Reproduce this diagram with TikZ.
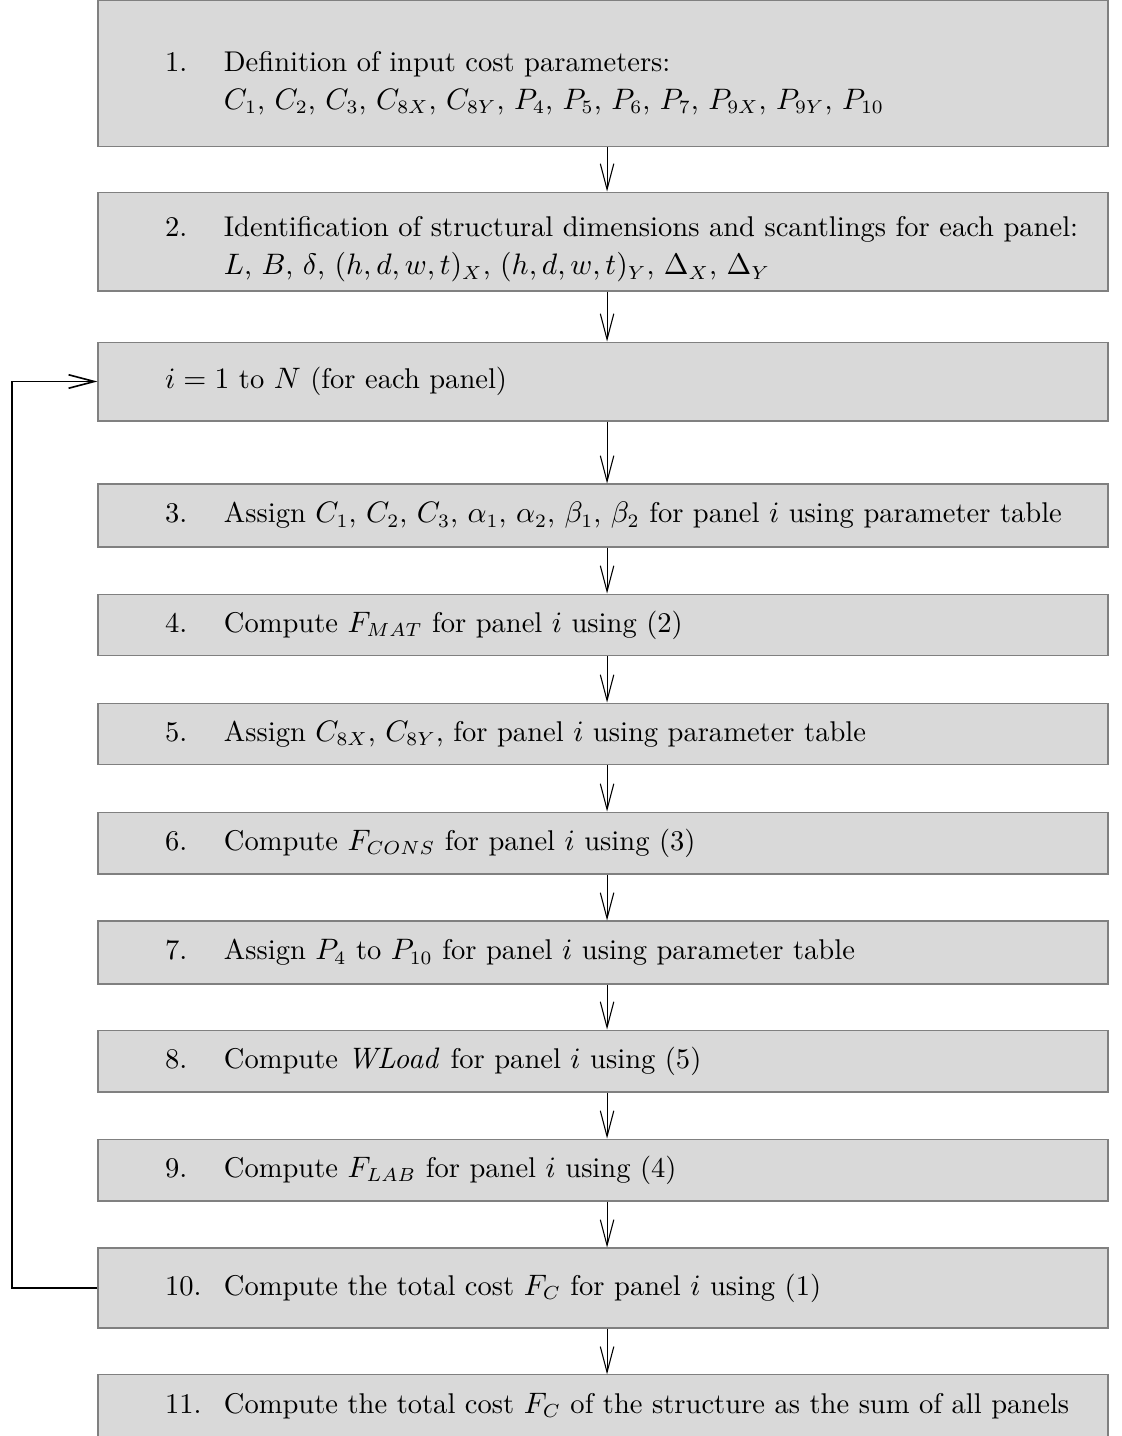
\documentclass[tikz,border=0pt]{standalone}
\usepackage{amsmath,amssymb}
\usepackage{xcolor}
\usepackage{tikz}
\usetikzlibrary{positioning,calc,arrows.meta}

\definecolor{boxgray}{RGB}{217,217,217}
\definecolor{edgegray}{RGB}{128,128,128}

% label column of each box
\newcommand{\stepnum}[1]{\hspace*{24.8pt}\makebox[21.8pt][l]{#1}}
\newcommand{\stepcont}{\hspace*{46.6pt}}

\begin{document}
\begin{tikzpicture}[x=0.37pt, y=-0.37pt,
    stepbox/.style={draw=edgegray, fill=boxgray, rectangle, inner xsep=0pt,
        minimum width=373.7pt, text width=373.7pt, align=left,
        font=\fontsize{10.56pt}{14pt}\selectfont},
    flow/.style={-{Straight Barb[length=9.5pt,width=5pt]}, thin},
    loopline/.style={-{Straight Barb[length=9.5pt,width=5pt]}, semithick}]
    \useasboundingbox (0,0) rectangle (1122,1436);

    % Steps
    \node[stepbox, minimum height=54pt] (s1) at (603,73.5)
        {\stepnum{1.}\rule{0pt}{14.6pt}Definition of input cost parameters:\\
         \stepcont$C_1$, $C_2$, $C_3$, $C_{8X}$, $C_{8Y}$, $P_4$, $P_5$, $P_6$, $P_7$, $P_{9X}$, $P_{9Y}$, $P_{10}$};
    \node[stepbox, minimum height=35.9pt] (s2) at (603,241.5)
        {\stepnum{2.}\rule{0pt}{13.2pt}Identification of structural dimensions and scantlings for each panel:\\
         \stepcont$L$, $B$, $\delta$, $(h,d,w,t)_X$, $(h,d,w,t)_Y$, $\Delta_X$, $\Delta_Y$};
    \node[stepbox, minimum height=29.2pt] (loop) at (603,381.5)
        {\hspace*{24.8pt}$i=1$ to $N$ (for each panel)};
    \node[stepbox, minimum height=23.3pt] (s3) at (603,515.5)
        {\stepnum{3.}Assign $C_1$, $C_2$, $C_3$, $\alpha_1$, $\alpha_2$, $\beta_1$, $\beta_2$ for panel $i$ using parameter table};
    \node[stepbox, minimum height=22.9pt] (s4) at (603,625)
        {\stepnum{4.}Compute $F_{MAT}$ for panel $i$ using (2)};
    \node[stepbox, minimum height=22.9pt] (s5) at (603,734)
        {\stepnum{5.}Assign $C_{8X}$, $C_{8Y}$, for panel $i$ using parameter table};
    \node[stepbox, minimum height=22.9pt] (s6) at (603,843)
        {\stepnum{6.}Compute $F_{CONS}$ for panel $i$ using (3)};
    \node[stepbox, minimum height=23.3pt] (s7) at (603,952.5)
        {\stepnum{7.}Assign $P_4$ to $P_{10}$ for panel $i$ using parameter table};
    \node[stepbox, minimum height=22.9pt] (s8) at (603,1061)
        {\stepnum{8.}Compute $\mathit{WLoad}$ for panel $i$ using (5)};
    \node[stepbox, minimum height=22.9pt] (s9) at (603,1170)
        {\stepnum{9.}Compute $F_{LAB}$ for panel $i$ using (4)};
    \node[stepbox, minimum height=29.6pt] (s10) at (603,1288)
        {\stepnum{10.}Compute the total cost $F_C$ for panel $i$ using (1)};
    \node[stepbox, minimum height=23pt] (s11) at (603,1406)
        {\stepnum{11.}Compute the total cost $F_C$ of the structure as the sum of all panels};

    % Arrows down the chain
    \foreach \a/\b in {s1/s2, s2/loop, loop/s3, s3/s4, s4/s5, s5/s6, s6/s7, s7/s8, s8/s9, s9/s10, s10/s11}
        \draw[flow] ([xshift=1.5pt]\a.south) -- ([xshift=1.5pt]\b.north);

    % Loop back
    \coordinate (lb) at (12,1288);
    \coordinate (lt) at (12,381.5);
    \draw[loopline] (s10.west) -- (lb) -- (lt) -- (loop.west);
\end{tikzpicture}
\end{document}
